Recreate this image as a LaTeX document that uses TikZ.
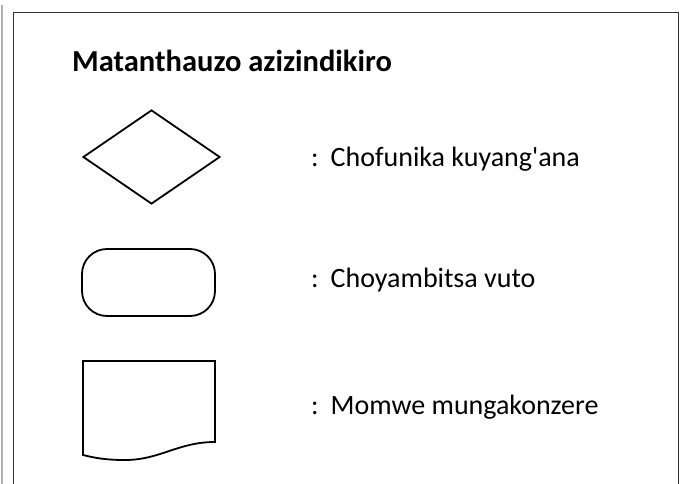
\documentclass[tikz,border=0pt]{standalone}
\usepackage{fontspec}
\setmainfont{Carlito}
\usetikzlibrary{positioning,shapes.geometric}

\begin{document}
\begin{tikzpicture}[
  x=1pt,y=-1pt,
  font=\fontsize{28}{33}\selectfont,
  bingu/.style={draw,line width=1.8pt,inner sep=0pt},
  mawu/.style={anchor=base west,inner sep=0pt},
  malire/.style={draw=black!80,line width=1.8pt}
]
\useasboundingbox (0,0) rectangle (680,484);
\draw[gray!60,line width=2pt] (1.5,5) -- (1.5,484);
\draw[malire] (13.5,12.5) -- (678.5,12.5) -- (678.5,484) (13.5,484) -- (13.5,12.5);

\node[mawu,font=\fontsize{30.5}{36}\selectfont\bfseries] (mutu) at (72,72) {Matanthauzo azizindikiro};

% zizindikiro
\node[bingu,diamond,minimum width=137pt,minimum height=94pt,aspect=1.46] (funso) at (151.5,157) {};
\node[bingu,rounded corners=25pt,minimum width=133pt,minimum height=67pt] (chiyambi) at (148.5,282.5) {};
\draw[line width=1.8pt] (83,361) coordinate (pepala) -- (215,361) -- (215,442)
  .. controls (178,442) and (160,460) .. (125,460)
  .. controls (106,460) and (95,458) .. (83,455) -- cycle;

% mafotokozedwe
\foreach \n/\y/\t in {m1/167/Chofunika kuyang\textquotesingle ana,m2/287/Choyambitsa vuto,m3/414/Momwe mungakonzere}
  \node[mawu] (\n) at (311,\y) {:\hspace{12pt}\t};
\end{tikzpicture}
\end{document}
